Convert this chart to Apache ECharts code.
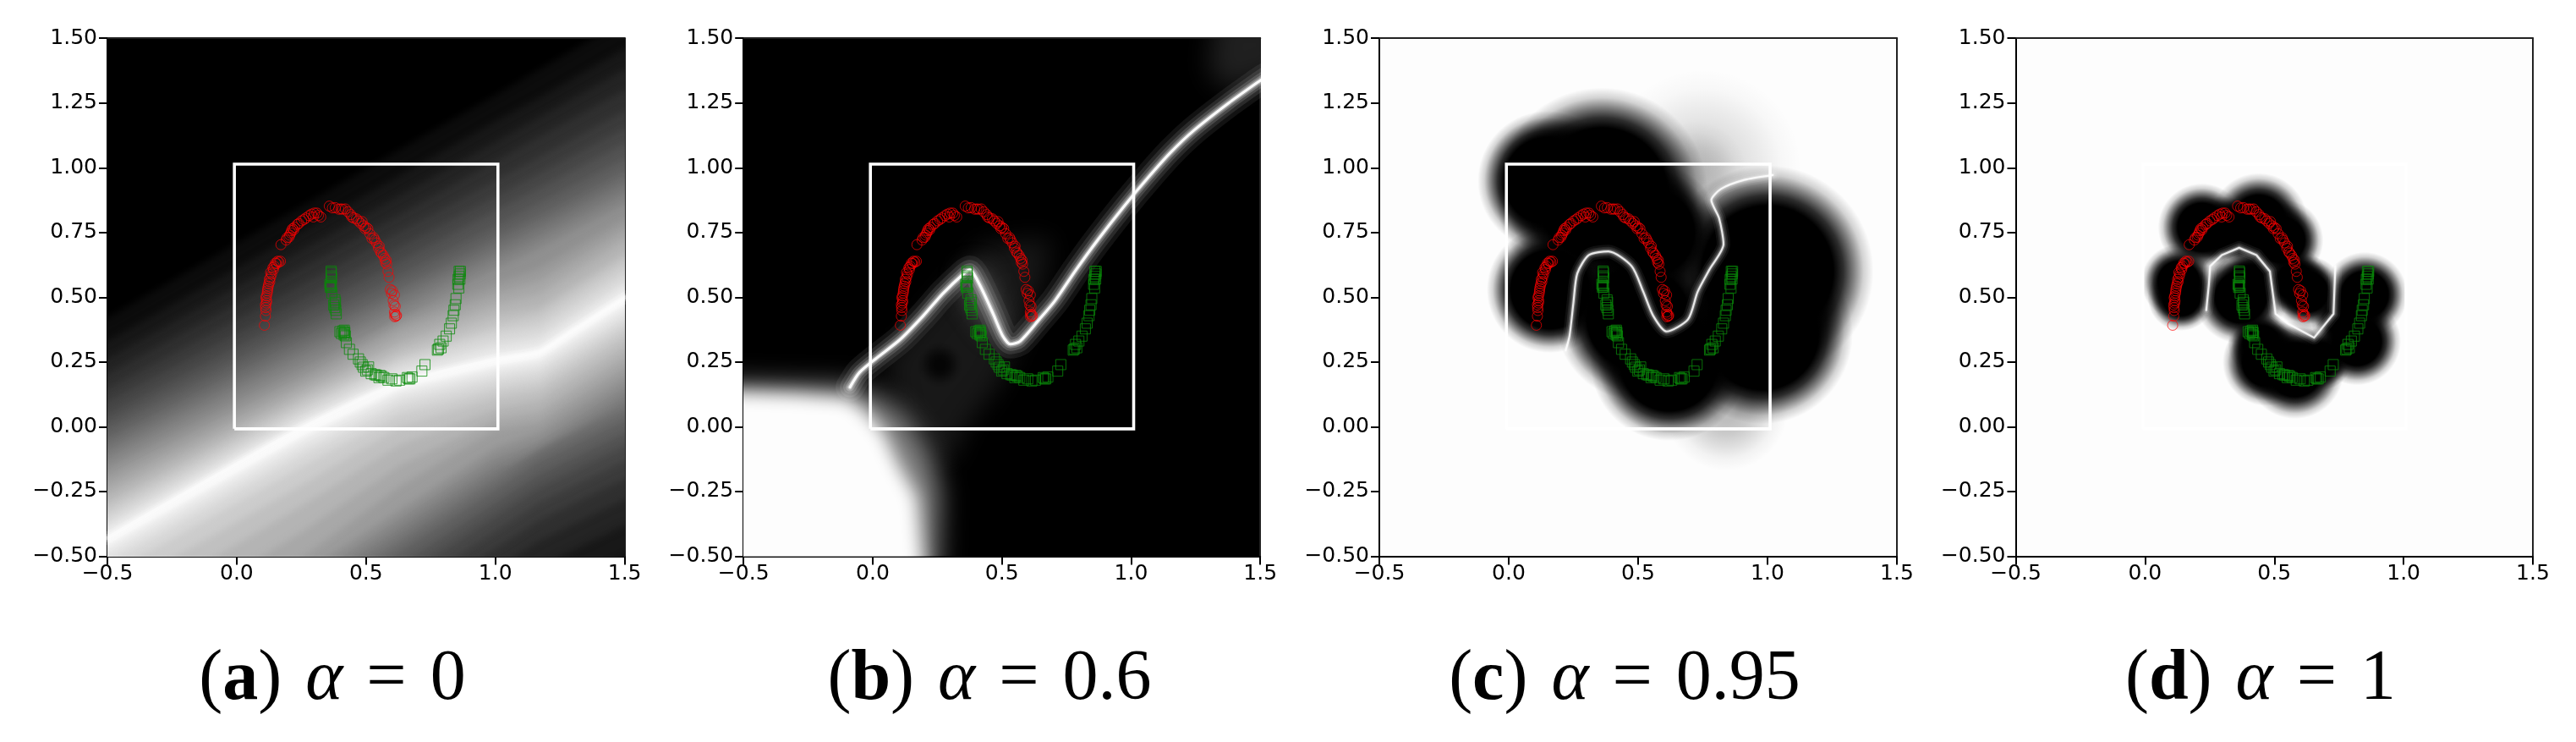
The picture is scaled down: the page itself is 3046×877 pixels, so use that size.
<!DOCTYPE html>
<html><head><meta charset="utf-8">
<script src="https://cdn.jsdelivr.net/npm/echarts@6/dist/echarts.min.js"></script>
<style>html,body{margin:0;padding:0;background:#fff}#c{width:3046px;height:877px}</style></head>
<body><div id="c"></div>
<script>
const xTicks=[-0.5,0,0.5,1,1.5];
const captions=['({b|a})\u2004{i|α}\u2004=\u20040','({b|b})\u2004{i|α}\u2004=\u20040.6','({b|c})\u2004{i|α}\u2004=\u20040.95','({b|d})\u2004{i|α}\u2004=\u20041'];
const redPoints=[[.107,.392],[.111,.427],[.113,.449],[.111,.471],[.116,.487],[.113,.498],[.118,.516],[.120,.534],[.124,.552],[.126,.569],[.131,.577],[.131,.596],[.142,.607],[.140,.614],[.150,.632],[.158,.639],[.169,.639],[.163,.636],[.171,.703],[.191,.721],[.202,.732],[.209,.748],[.216,.765],[.224,.770],[.234,.781],[.251,.795],[.267,.806],[.289,.821],[.300,.825],[.316,.816],[.296,.810],[.358,.852],[.381,.846],[.403,.841],[.420,.841],[.441,.819],[.452,.806],[.463,.803],[.485,.792],[.491,.776],[.496,.765],[.507,.765],[.523,.727],[.534,.721],[.551,.697],[.556,.675],[.567,.661],[.578,.643],[.580,.628],[.589,.577],[.594,.530],[.602,.525],[.610,.509],[.605,.487],[.613,.465],[.610,.443],[.616,.427],[.611,.425],
[.112,.46],[.115,.478],[.115,.505],[.119,.525],[.122,.543],[.128,.56],[.135,.59],[.145,.62],[.154,.63],[.195,.73],[.205,.74],[.212,.757],[.22,.76],[.24,.785],[.26,.80],[.28,.815],[.31,.825],[.325,.81],[.37,.845],[.395,.84],[.41,.84],[.43,.83],[.445,.81],[.47,.795],[.48,.785],[.5,.77],[.515,.745],[.53,.73],[.54,.71],[.548,.69],[.56,.67],[.572,.65],[.575,.635],[.585,.6],[.598,.515],[.608,.47],[.612,.435],[.618,.43]];
const greenPoints=[[.365,.601],[.365,.582],[.364,.545],[.362,.538],[.368,.516],[.382,.481],[.379,.460],[.385,.436],[.399,.367],[.416,.362],[.420,.351],[.416,.373],[.436,.299],[.471,.262],[.485,.240],[.499,.215],[.510,.231],[.534,.201],[.554,.198],[.569,.190],[.600,.185],[.616,.177],[.665,.185],[.678,.192],[.716,.215],[.728,.240],[.776,.296],[.785,.318],[.798,.331],[.823,.378],[.837,.429],[.845,.471],[.848,.495],[.859,.536],[.856,.569],[.864,.590],[.860,.600],
[.366,.595],[.367,.575],[.36,.55],[.366,.54],[.375,.47],[.383,.45],[.38,.49],[.405,.36],[.41,.37],[.415,.355],[.418,.365],[.424,.325],[.45,.28],[.478,.25],[.49,.23],[.505,.22],[.52,.205],[.54,.2],[.55,.19],[.56,.195],[.585,.18],[.63,.18],[.66,.19],[.67,.185],[.78,.3],[.79,.305],[.81,.35],[.83,.40],[.84,.45],[.855,.55],[.863,.57],[.865,.6],[.86,.58]];
const boxEdge=[[-.009,-.008],[1.01,-.008],[1.01,1.014],[-.009,1.014],[-.009,-.008]];
// Panel a: filled contour levels [gray, y at each contourX]
const contourX=[-.5,.26,.63,1,1.17,1.5];
const ridgeA=[[-.52,-.44],[-.12,-.21],[.26,0],[.63,.17],[1,.26],[1.17,.29],[1.29,.365],[1.52,.51]];
const aboveLevels=[[12,.42,.857,1.07,1.28,1.38,1.57],[24,.33,.76,.97,1.18,1.27,1.46],[36,.26,.686,.893,1.10,1.195,1.38],[48,.20,.618,.82,1.025,1.12,1.30],[60,.14,.55,.75,.95,1.04,1.22],[72,.09,.49,.69,.885,.975,1.15],[84,.04,.44,.633,.83,.917,1.09],[96,0,.39,.58,.77,.86,1.03],[108,-.04,.35,.536,.725,.81,.98],[120,-.075,.31,.50,.686,.77,.94],[132,-.11,.274,.46,.65,.73,.90],[144,-.145,.235,.42,.61,.69,.86],[156,-.18,.20,.40,.55,.61,.80],[168,-.215,.17,.37,.51,.56,.76],[180,-.25,.14,.33,.47,.51,.72],[192,-.285,.115,.30,.43,.46,.67],[204,-.315,.09,.27,.39,.43,.64],[216,-.345,.065,.25,.36,.39,.60],[228,-.375,.04,.22,.32,.35,.56],[240,-.40,.02,.19,.285,.315,.53],[255,-.43,0,.17,.26,.29,.5]];
const belowLevels=[[240,-.45,-.03,.15,.24,.27,.48],[228,-.48,-.06,.125,.215,.245,.45],[216,-.52,-.10,.09,.185,.215,.415],[204,-.57,-.15,.05,.15,.18,.385],[192,-.65,-.22,0,.115,.145,.35],[180,-.75,-.30,-.07,.07,.105,.31],[168,-.87,-.40,-.15,.03,.06,.27],[156,-1,-.5,-.23,-.01,.02,.23],[144,-1.05,-.56,-.32,-.08,-.02,.19],[132,-1.09,-.60,-.36,-.12,-.06,.15],[120,-1.13,-.64,-.40,-.16,-.10,.11],[108,-1.17,-.68,-.44,-.2,-.09,.07],[96,-1.21,-.72,-.48,-.24,-.13,.03],[84,-1.26,-.77,-.53,-.29,-.18,-.02],[72,-1.31,-.82,-.58,-.34,-.23,-.07],[60,-1.37,-.88,-.64,-.40,-.29,-.13],[48,-1.44,-.95,-.71,-.47,-.36,-.2],[36,-1.52,-1.03,-.79,-.55,-.44,-.28],[24,-1.62,-1.13,-.89,-.65,-.54,-.38],[12,-1.74,-1.25,-1.01,-.77,-.66,-.5]];
// Panel b
const ridgeB=[[-.088,.153],[-.051,.21],[.016,.266],[.106,.337],[.196,.429],[.271,.514],[.353,.592],[.376,.606],[.413,.55],[.466,.436],[.503,.351],[.533,.319],[.57,.33],[.645,.415],[.705,.486],[.787,.606],[.87,.72],[.975,.854],[1.064,.96],[1.154,1.06],[1.244,1.145],[1.378,1.25],[1.49,1.33],[1.52,1.35]];
const hazeB=[[24,[[.05,.25],[.36,.62],[.42,.70],[.69,.73],[.66,.55],[.56,.32],[.48,.15],[.36,0],[.30,-.15],[.10,0]]],[110,[[.37,.61],[.42,.60],[.52,.34],[.46,.38],[.36,.52]]],[130,[[-.6,.17],[-.1,.16],[.02,.12],[.12,.05],[.22,-.1],[.26,-.25],[.25,-.6],[-.6,-.6]]],[253,[[-.6,.135],[-.3,.125],[-.1,.11],[-.03,.06],[.04,-.02],[.1,-.15],[.17,-.27],[.2,-.6],[-.6,-.6]]],[32,[[1.33,1.6],[1.6,1.6],[1.6,1.38],[1.38,1.3],[1.3,1.37]]]];
const blobsB=[[.26,.24,.09,.8]];
// Panel c
const ridgeC=[[1.02,.972],[.91,.953],[.82,.918],[.783,.875],[.813,.805],[.83,.705],[.775,.606],[.73,.521],[.693,.415],[.61,.368],[.558,.429],[.52,.521],[.475,.62],[.385,.677],[.31,.663],[.265,.592],[.25,.479],[.235,.351],[.22,.295]];
const faintC=[[.75,1.0,.38,.14],[.72,.98,.2,.16],[.84,.07,.24,.25]];
const blobsC=[[.36,.9,.41,1],[.15,.95,.27,1],[.16,.53,.245,1],[.62,.25,.305,1],[.5,.42,.32,1],[.55,.75,.27,1],[1.0,.6,.41,1],[.98,.36,.35,1]];
// Panel d
const ridgeD=[[.237,.45],[.247,.55],[.252,.62],[.297,.663],[.364,.691],[.431,.663],[.483,.6],[.505,.436],[.55,.40],[.654,.344],[.729,.436],[.736,.62]];
const blobsD=[[.13,.56,.145,1],[.14,.50,.13,1],[.22,.77,.17,1],[.30,.76,.13,1],[.44,.79,.19,1],[.53,.72,.16,1],[.36,.76,.12,1],[.63,.52,.14,1],[.58,.56,.13,1],[.37,.50,.18,1],[.41,.56,.12,1],[.47,.25,.17,1],[.45,.32,.13,1],[.58,.22,.19,1],[.68,.26,.12,1],[.82,.33,.17,1],[.85,.51,.165,1],[.78,.42,.14,1]];

const plots=[{l:127,w:611.6},{l:879.2,w:611},{l:1631,w:612},{l:2383.5,w:611.5}];
const capCenter=[388,1165,1916,2668];
const capTop=757;
const bg=['#000','#000','#fdfdfd','#fdfdfd'];
const gray=g=>`rgb(${g},${g},${g})`;
const font='DejaVu Sans';

const grid=[],xAxis=[],yAxis=[],title=[],series=[];
plots.forEach((p,i)=>{
  grid.push({left:p.l,top:45.2,width:p.w,height:612.3,show:true,backgroundColor:bg[i],borderWidth:0});
  const base={type:'value',gridIndex:i,min:-.5,max:1.5,splitLine:{show:false}};
  xAxis.push({...base,position:'bottom',interval:.5,
    axisLine:{show:true,onZero:false,lineStyle:{color:'#000',width:2}},
    axisTick:{show:true,length:10,lineStyle:{color:'#000',width:2}},
    axisLabel:{show:true,margin:8,color:'#000',fontFamily:font,fontSize:25,formatter:v=>v.toFixed(1).replace('-','\u2212')}});
  xAxis.push({...base,position:'top',interval:.5,axisLine:{show:true,onZero:false,lineStyle:{color:'#222',width:2}},axisTick:{show:false},axisLabel:{show:false}});
  yAxis.push({...base,position:'left',interval:.25,
    axisLine:{show:true,onZero:false,lineStyle:{color:'#000',width:2}},
    axisTick:{show:true,length:10,lineStyle:{color:'#000',width:2}},
    axisLabel:{show:true,margin:12,color:'#000',fontFamily:font,fontSize:25,formatter:v=>v.toFixed(2).replace('-','\u2212')}});
  yAxis.push({...base,position:'right',interval:.25,axisLine:{show:true,onZero:false,lineStyle:{color:'#222',width:2}},axisTick:{show:false},axisLabel:{show:false}});
  title.push({text:captions[i],left:capCenter[i],top:capTop,textAlign:'center',
    textStyle:{fontFamily:'Liberation Serif',fontSize:84,fontWeight:'normal',color:'#000',
      rich:{b:{fontFamily:'Liberation Serif',fontSize:84,fontWeight:'bold',color:'#000'},i:{fontFamily:'Liberation Serif',fontSize:84,fontStyle:'italic',color:'#000'}}}});
});
const onAxes=i=>({xAxisIndex:2*i,yAxisIndex:2*i,silent:true,animation:false});

function polygons(i,list,z){
  series.push({...onAxes(i),type:'custom',coordinateSystem:'cartesian2d',clip:true,z,
    data:list.map(o=>o.pts[0]),
    renderItem(params,api){
      const o=list[params.dataIndex];
      const off=o.blur?6000:0;
      const pts=o.pts.map(q=>{const c=api.coord(q);return [c[0]-off,c[1]];});
      const style={fill:gray(o.g)};
      if(o.blur){style.shadowBlur=o.blur;style.shadowColor=gray(o.g);style.shadowOffsetX=off;}
      return {type:'polygon',shape:{points:pts},style};
    }});
}
function blobs(i,list,soft,z){
  series.push({...onAxes(i),type:'custom',coordinateSystem:'cartesian2d',clip:true,z,
    data:list,
    renderItem(params,api){
      const b=list[params.dataIndex];
      const c=api.coord([b[0],b[1]]);
      const r=api.size([b[2],0])[0];
      const a=b[3];
      const k=soft;
      const stops=[{offset:0,color:`rgba(0,0,0,${a})`},{offset:k,color:`rgba(0,0,0,${a})`},
        {offset:k+(1-k)*.25,color:`rgba(0,0,0,${a*.82})`},{offset:k+(1-k)*.5,color:`rgba(0,0,0,${a*.5})`},
        {offset:k+(1-k)*.75,color:`rgba(0,0,0,${a*.17})`},{offset:1,color:'rgba(0,0,0,0)'}];
      return {type:'circle',shape:{cx:c[0],cy:c[1],r},style:{fill:new echarts.graphic.RadialGradient(.5,.5,.5,stops)}};
    }});
}
function ridge(i,pts,widths,alphas,z){
  widths.forEach((w,k)=>series.push({...onAxes(i),type:'line',data:pts,showSymbol:false,smooth:i===3?0:.25,z,
    lineStyle:{color:`rgba(255,255,255,${alphas[k]})`,width:w,cap:'round',join:'round'}}));
}
function marks(i){
  series.push({...onAxes(i),type:'line',data:boxEdge,showSymbol:false,z:5,lineStyle:{color:'#fff',width:3.6,join:'miter'}});
  series.push({...onAxes(i),type:'scatter',data:redPoints,symbol:'circle',symbolSize:12,z:6,itemStyle:{color:'transparent',borderColor:'#ff0000',borderWidth:.9}});
  series.push({...onAxes(i),type:'scatter',data:greenPoints,symbol:'rect',symbolSize:12,z:6,itemStyle:{color:'transparent',borderColor:'#0a8a0a',borderWidth:1}});
}
const toPoly=(r,closeY)=>({g:r[0],blur:9,pts:[[-.8,r[1]],...contourX.map((x,k)=>[x,r[k+1]]),[1.8,r[6]],[1.8,closeY],[-.8,closeY]]});
polygons(0,[...aboveLevels,...belowLevels].map(r=>toPoly(r,-3)),1);
ridge(0,ridgeA,[14,8,4],[.12,.2,.35],2);
polygons(1,hazeB.map(h=>({g:h[0],pts:h[1],blur:h[0]>200?20:30})),1);
blobs(1,blobsB,.2,2);
ridge(1,ridgeB,[34,24,16,10,6,3.2],[.07,.1,.15,.22,.35,.95],3);
blobs(2,faintC,.2,1);
blobs(2,blobsC,.62,1);
ridge(2,ridgeC,[16,11,7,4,2.2],[.06,.1,.15,.25,.85],3);
blobs(3,blobsD,.55,1);
ridge(3,ridgeD,[16,11,7,4,2.2],[.06,.1,.15,.25,.85],3);
[0,1,2,3].forEach(marks);

const chart=echarts.init(document.getElementById('c'),null,{renderer:'canvas'});
chart.setOption({animation:false,backgroundColor:'#fff',grid,xAxis,yAxis,title,series});
</script></body></html>
